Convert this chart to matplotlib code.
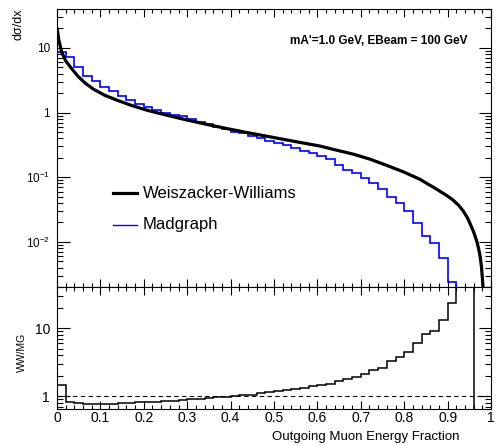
import numpy as np
import matplotlib
matplotlib.use('Agg')
import matplotlib.pyplot as plt
from matplotlib.ticker import FixedLocator, NullFormatter, MultipleLocator, LogLocator

plt.rcParams['font.family'] = ['Liberation Sans', 'DejaVu Sans']
plt.rcParams['mathtext.fontset'] = 'custom'
plt.rcParams['mathtext.rm'] = 'Liberation Sans'
plt.rcParams['mathtext.it'] = 'Liberation Sans:italic'
plt.rcParams['mathtext.bf'] = 'Liberation Sans:bold'

# ---------------- data ----------------
bin_edges = [round(0.02 * i, 2) for i in range(51)]

# Madgraph histogram (d sigma / dx per 0.02 bin)
mg_values = [8.67, 7.25, 5.07, 3.72, 3.08, 2.48, 2.12, 1.78, 1.54, 1.36,
             1.22, 1.10, 1.00, 0.93, 0.871, 0.792, 0.720, 0.654, 0.595, 0.554,
             0.509, 0.481, 0.441, 0.402, 0.369, 0.344, 0.317, 0.282, 0.256, 0.235,
             0.214, 0.190, 0.153, 0.130, 0.115, 0.0964, 0.0806, 0.0659, 0.050, 0.0395,
             0.0304, 0.0198, 0.0124, 0.00946, 0.00553, 0.0024, 0.0005, 0.0005, 0.0, 0.0]

# Weiszacker-Williams curve
ww_x = [0.0, 0.004, 0.0108, 0.02, 0.0315, 0.049, 0.065, 0.084, 0.11, 0.1375,
        0.17, 0.2067, 0.25, 0.291, 0.35, 0.40, 0.445, 0.50, 0.55, 0.606,
        0.644, 0.683, 0.721, 0.759, 0.798, 0.836, 0.875, 0.900, 0.913, 0.925,
        0.936, 0.945, 0.952, 0.960, 0.967, 0.971, 0.975, 0.978, 0.980, 0.983]
ww_y = [20.5, 13.5, 8.6, 6.3, 5.0, 3.6, 2.85, 2.3, 1.85, 1.56,
        1.3, 1.09, 0.92, 0.79, 0.645, 0.55, 0.48, 0.41, 0.355, 0.303,
        0.262, 0.227, 0.19, 0.153, 0.121, 0.093, 0.065, 0.051, 0.044, 0.037,
        0.030, 0.024, 0.019, 0.0142, 0.0103, 0.0081, 0.0059, 0.0041, 0.0028, 0.0015]

# Ratio WW / MG per bin
ratio_values = [1.45, 0.82, 0.79, 0.78, 0.78, 0.78, 0.78, 0.79, 0.80, 0.81,
                0.82, 0.83, 0.85, 0.86, 0.88, 0.90, 0.92, 0.94, 0.96, 0.98,
                1.00, 1.03, 1.06, 1.13, 1.16, 1.20, 1.24, 1.27, 1.31, 1.39,
                1.47, 1.52, 1.70, 1.80, 1.90, 2.13, 2.44, 2.61, 3.24, 3.70,
                4.40, 6.00, 8.10, 9.10, 13.0, 23.0, 60.0, 60.0, 0.0, 0.0]

upper_yticks = [0.01, 0.1, 1, 10]
upper_ylabels = ['$10^{-2}$', '$10^{-1}$', '1', '10']
lower_yticks = [1, 10]
lower_ylabels = ['1', '10']
x_ticks = [0.0, 0.1, 0.2, 0.3, 0.4, 0.5, 0.6, 0.7, 0.8, 0.9, 1.0]
x_labels = ['0', '0.1', '0.2', '0.3', '0.4', '0.5', '0.6', '0.7', '0.8', '0.9', '1']

legend_labels = ['Weiszacker-Williams', 'Madgraph']
annotation = "mA'=1.0 GeV, EBeam = 100 GeV"

# ---------------- figure ----------------
W, H = 496, 446
fig = plt.figure(figsize=(W / 100, H / 100), dpi=100)
L, R = 57, 491
ax1 = fig.add_axes([L / W, 1 - 287 / H, (R - L) / W, (287 - 9) / H])
ax2 = fig.add_axes([L / W, 1 - 409 / H, (R - L) / W, (409 - 287) / H])

mg_arr = np.array(mg_values)
ax1.plot(ww_x, ww_y, color='black', lw=2.3, solid_capstyle='butt',
         solid_joinstyle='round', zorder=3)
ax1.stairs(np.where(mg_arr > 0, mg_arr, 1e-6), bin_edges, baseline=None,
           color='blue', lw=1.2, zorder=2)
ax1.set_yscale('log')
ax1.set_xlim(0, 1)
ax1.set_ylim(2e-3, 40)

ratio_arr = np.array(ratio_values)
ax2.stairs(np.where(ratio_arr > 0, ratio_arr, 1e-3), bin_edges, baseline=None,
           color='black', lw=1.1)
ax2.axhline(1, color='black', lw=0.8, ls=(0, (4, 3)))
ax2.set_yscale('log')
ax2.set_xlim(0, 1)
ax2.set_ylim(0.65, 40)

for ax in (ax1, ax2):
    for s in ax.spines.values():
        s.set_linewidth(0.8)
    ax.xaxis.set_major_locator(FixedLocator(x_ticks))
    ax.xaxis.set_minor_locator(MultipleLocator(0.02))
    ax.tick_params(which='both', direction='in', top=True, right=True, width=0.8)
    ax.tick_params(axis='x', which='major', length=5.5)
    ax.tick_params(axis='x', which='minor', length=2.7)
    ax.tick_params(axis='y', which='major', length=9)
    ax.tick_params(axis='y', which='minor', length=4.3)
    ax.yaxis.set_minor_locator(LogLocator(base=10, subs=(2, 3, 4, 5, 6, 7, 8, 9), numticks=20))
    ax.yaxis.set_minor_formatter(NullFormatter())

ax1.yaxis.set_major_locator(FixedLocator(upper_yticks))
ax1.set_yticklabels(upper_ylabels)
ax1.tick_params(axis='y', labelsize=8.5, pad=5)
ax1.set_xticklabels([])

ax2.yaxis.set_major_locator(FixedLocator(lower_yticks))
ax2.set_yticklabels(lower_ylabels)
ax2.tick_params(axis='y', labelsize=10, pad=5)
ax2.set_xticklabels(x_labels)
ax2.tick_params(axis='x', labelsize=10, pad=1.5)

# legend (drawn manually)
def ax_xy(px, py):
    return (px - L) / (R - L), (287 - py) / (287 - 9)

x0, y0 = ax_xy(113, 193)
x1, _ = ax_xy(137, 193)
ax1.plot([x0, x1], [y0, y0], transform=ax1.transAxes, color='black', lw=2.3)
tx, _ = ax_xy(143, 192)
ax1.text(tx, y0, legend_labels[0], transform=ax1.transAxes, fontsize=12,
         ha='left', va='center')
_, y1 = ax_xy(113, 225)
ax1.plot([x0, x1], [y1, y1], transform=ax1.transAxes, color='blue', lw=1.0)
ax1.text(tx, y1, legend_labels[1], transform=ax1.transAxes, fontsize=12,
         ha='left', va='center')

ax_t, ay_t = ax_xy(468, 41)
ax1.text(ax_t, ay_t, annotation, transform=ax1.transAxes, fontsize=8.5,
         fontweight='bold', ha='right', va='center')

fig.text(18 / W, 1 - 9 / H, 'dσ/dx', rotation=90, ha='center', va='top', fontsize=9)
fig.text(22 / W, 1 - 352 / H, 'WW/MG', rotation=90, ha='center', va='center', fontsize=7.5)
fig.text(460 / W, 1 - 437 / H, 'Outgoing Muon Energy Fraction', ha='right',
         va='center', fontsize=9.5)

fig.savefig('out.png', dpi=100)
